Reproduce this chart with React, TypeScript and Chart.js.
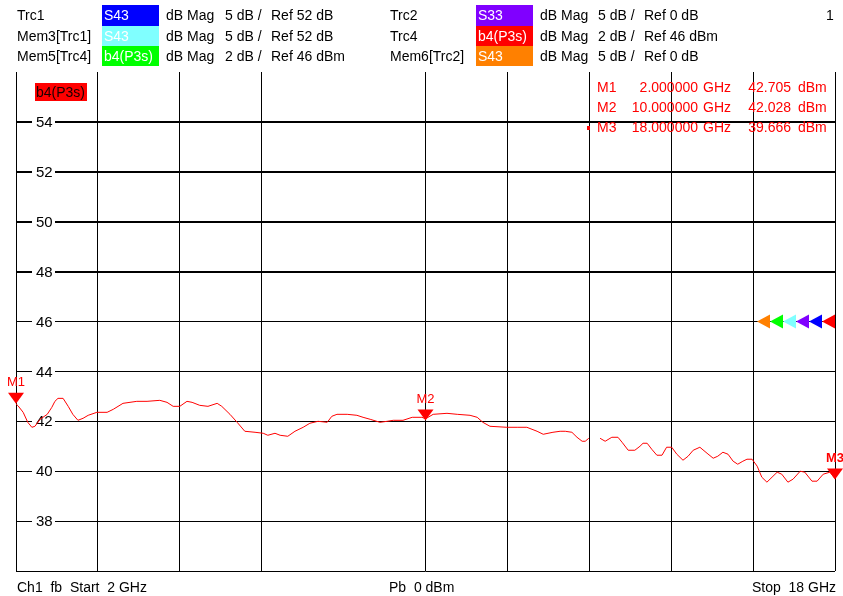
import { useEffect, useRef } from "react";
import { Chart, registerables } from "chart.js";

Chart.register(...registerables);

// ---------- data ----------
const freqsGHz = [
  2.0, 2.04, 2.14, 2.23, 2.31, 2.37, 2.47, 2.61, 2.7, 2.76, 2.82, 2.92, 3.02, 3.11, 3.21, 3.31, 3.41, 3.58, 3.78, 3.9,
  4.09, 4.36, 4.56, 4.81, 4.95, 5.07, 5.2, 5.34, 5.44, 5.59, 5.75, 5.93, 6.02, 6.18, 6.32, 6.47, 6.67, 6.83, 6.92, 7.06,
  7.16, 7.31, 7.45, 7.61, 7.74, 7.9, 8.08, 8.17, 8.27, 8.47, 8.66, 8.78, 8.92, 9.11, 9.25, 9.37, 9.56, 9.74, 9.93, 10.0,
  10.15, 10.42, 10.62, 10.87, 11.01, 11.12, 11.26, 11.59, 11.79, 11.98, 12.18, 12.3, 12.49, 12.63, 12.73, 12.86, 12.96,
  13.06, 13.12, 13.19, 13.3, 13.41, 13.51, 13.64, 13.76, 13.84, 13.96, 14.09, 14.19, 14.25, 14.33, 14.42, 14.52, 14.62,
  14.71, 14.81, 14.91, 15.03, 15.13, 15.23, 15.36, 15.5, 15.62, 15.71, 15.81, 15.91, 16.01, 16.1, 16.2, 16.28, 16.38,
  16.48, 16.57, 16.67, 16.77, 16.87, 16.96, 17.08, 17.18, 17.32, 17.41, 17.55, 17.65, 17.77, 17.9, 18.0,
];
const levelsDbm: (number | null)[] = [
  42.7, 42.62, 42.36, 41.96, 41.76, 41.8, 42.08, 42.28, 42.56, 42.8, 42.92, 42.92, 42.6, 42.28, 42.04, 42.12, 42.24, 42.36, 42.36, 42.48,
  42.72, 42.8, 42.8, 42.84, 42.76, 42.6, 42.6, 42.8, 42.76, 42.64, 42.6, 42.72, 42.6, 42.28, 41.96, 41.6, 41.56, 41.52, 41.44, 41.52,
  41.44, 41.4, 41.6, 41.76, 41.92, 42.0, 41.96, 42.2, 42.28, 42.28, 42.24, 42.16, 42.08, 41.96, 42.0, 42.04, 42.04, 42.16, 42.16, 42.1,
  42.28, 42.32, 42.28, 42.24, 42.16, 41.96, 41.8, 41.76, 41.76, 41.76, 41.6, 41.48, 41.56, 41.6, 41.6, 41.56, 41.36,
  41.2, 41.2, 41.32, null, 41.32, 41.2, 41.36, 41.36, 41.16, 40.84, 40.84, 41.0, 41.12, 41.12, 40.88, 40.64, 40.64,
  40.96, 40.96, 40.68, 40.44, 40.6, 40.84, 40.96, 40.72, 40.52, 40.6, 40.76, 40.68, 40.4, 40.28, 40.4, 40.48, 40.48,
  40.2, 39.76, 39.56, 39.76, 39.96, 39.88, 39.56, 39.68, 40.0, 39.96, 39.6, 39.6, 39.88, 39.96, 39.7,
];

const xTicksGHz = [2, 3.6, 5.2, 6.8, 8.4, 10, 11.6, 13.2, 14.8, 16.4, 18];
const hiddenXTick = 8.4;
const yTicksDbm = [36, 38, 40, 42, 44, 46, 48, 50, 52, 54, 56];
const yLabelTicks = [38, 40, 42, 44, 46, 48, 50, 52, 54];

const markerNames = ["M1", "M2", "M3"];
const markerFreqsGHz = [2, 10, 18];
const markerValuesDbm = [42.705, 42.028, 39.666];
const markerFreqTexts = ["2.000000", "10.000000", "18.000000"];
const markerValueTexts = ["42.705", "42.028", "39.666"];

const refLevelDbm = 46;
const refArrowColors = ["#ff8000", "#00ff00", "#80ffff", "#8000ff", "#0000ff", "#ff0000"];

const leftTraces = ["Trc1", "Mem3[Trc1]", "Mem5[Trc4]"];
const leftMeas = ["S43", "S43", "b4(P3s)"];
const leftColors = ["#0000ff", "#80ffff", "#00ff00"];
const leftScale = ["5 dB /", "5 dB /", "2 dB /"];
const leftRef = ["Ref 52 dB", "Ref 52 dB", "Ref 46 dBm"];
const rightTraces = ["Trc2", "Trc4", "Mem6[Trc2]"];
const rightMeas = ["S33", "b4(P3s)", "S43"];
const rightColors = ["#8000ff", "#ff0000", "#ff8000"];
const rightScale = ["5 dB /", "2 dB /", "5 dB /"];
const rightRef = ["Ref 0 dB", "Ref 46 dBm", "Ref 0 dB"];

const FONT = '14px "Liberation Sans", Arial, sans-serif';

function drawHeader(ctx: CanvasRenderingContext2D) {
  ctx.save();
  ctx.font = FONT;
  ctx.textBaseline = "middle";
  ctx.textAlign = "left";
  const rowTop = [5, 26, 46];
  const rowH = [21, 20, 20];
  for (let i = 0; i < 3; i++) {
    const cy = rowTop[i] + rowH[i] / 2 + 1;
    // left column
    ctx.fillStyle = "#000";
    ctx.fillText(leftTraces[i], 17, cy);
    ctx.fillStyle = leftColors[i];
    ctx.fillRect(102, rowTop[i], 57, rowH[i]);
    ctx.fillStyle = "#fff";
    ctx.fillText(leftMeas[i], 104, cy);
    ctx.fillStyle = "#000";
    ctx.fillText("dB Mag", 166, cy);
    ctx.fillText(leftScale[i], 225, cy);
    ctx.fillText(leftRef[i], 271, cy);
    // right column
    ctx.fillText(rightTraces[i], 390, cy);
    ctx.fillStyle = rightColors[i];
    ctx.fillRect(476, rowTop[i], 57, rowH[i]);
    ctx.fillStyle = "#fff";
    ctx.fillText(rightMeas[i], 478, cy);
    ctx.fillStyle = "#000";
    ctx.fillText("dB Mag", 540, cy);
    ctx.fillText(rightScale[i], 598, cy);
    ctx.fillText(rightRef[i], 644, cy);
  }
  ctx.fillText("1", 826, 16);
  // footer
  const fy = 588;
  ctx.fillText("Ch1  fb  Start  2 GHz", 17, fy);
  ctx.fillText("Pb  0 dBm", 389, fy);
  ctx.textAlign = "right";
  ctx.fillText("Stop  18 GHz", 836, fy);
  ctx.restore();
}

const overlayPlugin = {
  id: "overlay",
  beforeDatasetsDraw(chart: any) {
    const { ctx, chartArea, scales } = chart;
    const y = scales.y;
    ctx.save();
    ctx.font = '15px "Liberation Sans", Arial, sans-serif';
    ctx.textBaseline = "middle";
    ctx.textAlign = "left";
    for (const v of yLabelTicks) {
      const py = y.getPixelForValue(v);
      ctx.fillStyle = "#fff";
      ctx.fillRect(chartArea.left + 16, py - 3, 23, 6);
      ctx.fillStyle = "#000";
      ctx.fillText(String(v), chartArea.left + 20, py + 1);
    }
    // trace label box
    ctx.font = FONT;
    ctx.fillStyle = "#ff0000";
    ctx.fillRect(35, 83, 52, 18);
    ctx.fillStyle = "#1a0000";
    ctx.fillText("b4(P3s)", 36, 93);
    ctx.restore();
  },
  afterDatasetsDraw(chart: any) {
    const { ctx, scales } = chart;
    const x = scales.x;
    const y = scales.y;
    ctx.save();
    // reference level arrows
    const ry = y.getPixelForValue(refLevelDbm);
    const right = chart.chartArea.right;
    refArrowColors.forEach((c, i) => {
      const baseX = right - (refArrowColors.length - 1 - i) * 13;
      ctx.fillStyle = c;
      ctx.beginPath();
      ctx.moveTo(baseX - 13, ry);
      ctx.lineTo(baseX, ry - 7);
      ctx.lineTo(baseX, ry + 7);
      ctx.closePath();
      ctx.fill();
    });
    // markers on trace
    ctx.fillStyle = "#ff0000";
    ctx.textAlign = "center";
    ctx.textBaseline = "middle";
    markerNames.forEach((name, i) => {
      const px = x.getPixelForValue(markerFreqsGHz[i]);
      const py = y.getPixelForValue(markerValuesDbm[i]);
      ctx.beginPath();
      ctx.moveTo(px, py);
      ctx.lineTo(px - 8, py - 11);
      ctx.lineTo(px + 8, py - 11);
      ctx.closePath();
      ctx.fill();
      ctx.font = (i === 2 ? "bold " : "") + '13px "Liberation Sans", Arial, sans-serif';
      ctx.fillText(name, px, py - 21);
    });
    // marker table
    ctx.font = FONT;
    const rows = [88, 108, 128];
    markerNames.forEach((name, i) => {
      ctx.textAlign = "left";
      ctx.fillText(name, 597, rows[i]);
      ctx.textAlign = "right";
      ctx.fillText(markerFreqTexts[i], 698, rows[i]);
      ctx.textAlign = "left";
      ctx.fillText("GHz", 703, rows[i]);
      ctx.textAlign = "right";
      ctx.fillText(markerValueTexts[i], 791, rows[i]);
      ctx.textAlign = "left";
      ctx.fillText("dBm", 798, rows[i]);
    });
    ctx.fillRect(587, 126, 3, 4);
    ctx.restore();
  },
  afterDraw(chart: any) {
    drawHeader(chart.ctx);
  },
};

export default function App() {
  const ref = useRef<HTMLCanvasElement | null>(null);
  useEffect(() => {
    if (!ref.current) return;
    const data = freqsGHz.map((f, i) => ({ x: f, y: levelsDbm[i] }));
    const chart = new Chart(ref.current, {
      type: "line",
      data: {
        datasets: [
          {
            label: "b4(P3s)",
            data: data as any,
            borderColor: "#ff0000",
            borderWidth: 1,
            pointRadius: 0,
            tension: 0,
            spanGaps: false,
          },
        ],
      },
      options: {
        animation: false,
        responsive: false,
        devicePixelRatio: 1,
        layout: { padding: { left: 16, top: 72, right: 8, bottom: 25 } },
        plugins: { legend: { display: false }, tooltip: { enabled: false } },
        scales: {
          x: {
            type: "linear",
            min: 2,
            max: 18,
            afterBuildTicks: (s: any) => {
              s.ticks = xTicksGHz.map((v) => ({ value: v }));
            },
            ticks: { display: false },
            border: { display: false },
            grid: {
              drawTicks: false,
              lineWidth: 1,
              color: (c: any) => (c.tick && c.tick.value === hiddenXTick ? "rgba(0,0,0,0)" : "#000"),
            },
          },
          y: {
            type: "linear",
            min: 36,
            max: 56,
            afterBuildTicks: (s: any) => {
              s.ticks = yTicksDbm.map((v) => ({ value: v }));
            },
            ticks: { display: false },
            border: { display: false },
            grid: {
              drawTicks: false,
              lineWidth: (c: any) => (c.tick && c.tick.value >= 48 && c.tick.value <= 54 ? 2 : 1),
              color: (c: any) => (c.tick && c.tick.value === 56 ? "rgba(0,0,0,0)" : "#000"),
            },
          },
        },
      },
      plugins: [overlayPlugin],
    });
    return () => chart.destroy();
  }, []);
  return (
    <div style={{ position: "absolute", left: 0, top: 0, width: 843, height: 596, background: "#fff" }}>
      <canvas ref={ref} width={843} height={596} style={{ display: "block", width: 843, height: 596 }} />
    </div>
  );
}
